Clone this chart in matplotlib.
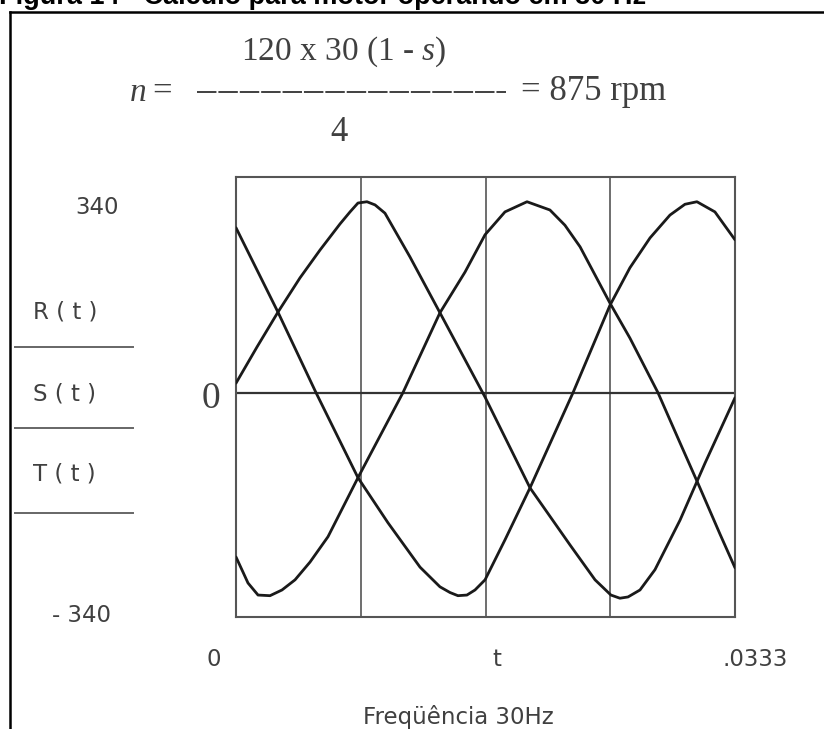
import matplotlib
matplotlib.use("Agg")
import matplotlib.pyplot as plt

W, H = 824, 729

# values (time in s, voltage in V)
t_R = [0, 0.00140, 0.00280, 0.00427, 0.00561, 0.00694, 0.00761, 0.00814, 0.00874,
       0.00928, 0.00994, 0.01161, 0.01361, 0.01662, 0.01962, 0.02229, 0.02396,
       0.02502, 0.02562, 0.02616, 0.02696, 0.02796, 0.02963, 0.03130, 0.0333]
v_R = [15, 72, 127, 181, 225, 266, 285, 299, 301,
       296, 283, 214, 126, -7, -150, -240, -295,
       -319, -324, -322, -311, -279, -201, -111, -8]

t_S = [0, 0.00047, 0.00080, 0.00147, 0.00227, 0.00307, 0.00394, 0.00494, 0.00614,
       0.00814, 0.01114, 0.01361, 0.01528, 0.01662, 0.01795, 0.01942, 0.02095,
       0.02195, 0.02296, 0.02496, 0.02629, 0.02816, 0.02963, 0.03096, 0.03230, 0.0333]
v_S = [-259, -283, -300, -319, -320, -311, -295, -267, -227,
       -134, 0, 126, 190, 249, 285, 301, 288,
       264, 230, 141, 86, 0, -79, -150, -223, -276]

t_T = [0, 0.00280, 0.00534, 0.00814, 0.01014, 0.01228, 0.01361, 0.01428, 0.01481,
       0.01541, 0.01595, 0.01662, 0.01795, 0.01962, 0.02249, 0.02496, 0.02629,
       0.02763, 0.02896, 0.02996, 0.03076, 0.03196, 0.0333]
v_T = [260, 127, 0, -134, -205, -275, -306, -315, -320,
       -319, -311, -295, -232, -150, 0, 138, 197,
       244, 280, 297, 301, 285, 241]

t_max = 0.0333
y_lo, y_hi = -353.6, 340
grid_t = [t_max / 4, t_max / 2, 3 * t_max / 4]

txt_col = "#404040"
serif = "Liberation Serif"
plt.rcParams["mathtext.fontset"] = "custom"
plt.rcParams["mathtext.rm"] = "Liberation Serif"
plt.rcParams["mathtext.it"] = "Liberation Serif:italic"


def fx(x):
    return x / W


def fy(y):
    return 1 - y / H


fig = plt.figure(figsize=(W / 100, H / 100), dpi=100)

# title (cut off at the top of the scan, as in the source)
fig.text(fx(-1), fy(4), "Figura 14 - Cálculo para motor operando em 30 Hz",
         family="Liberation Sans", weight="bold", fontsize=19.5, va="baseline", ha="left")

# frame of the figure box
fig.add_artist(plt.Line2D([fx(9.5), fx(W)], [fy(12), fy(12)], color="black", lw=1.8))
fig.add_artist(plt.Line2D([fx(9.5), fx(9.5)], [fy(12), fy(H)], color="black", lw=1.8))

# formula
fig.text(fx(344), fy(60), r"120 x 30 (1 - $\mathit{s}$)", family=serif, fontsize=24,
         ha="center", va="baseline", color=txt_col)
fig.text(fx(130), fy(101), "n", family=serif, style="italic", fontsize=24,
         ha="left", va="baseline", color=txt_col)
fig.text(fx(162), fy(101), "=", family=serif, fontsize=25,
         ha="center", va="baseline", color=txt_col)
fig.add_artist(plt.Line2D([fx(197), fx(506)], [fy(92), fy(92)], color=txt_col,
                          lw=1.4, dashes=(10, 1.0)))
fig.text(fx(521), fy(100), "= 875 rpm", family=serif, fontsize=25,
         ha="left", va="baseline", color=txt_col)
fig.text(fx(339), fy(141), "4", family=serif, fontsize=25,
         ha="center", va="baseline", color=txt_col)

# plot area
ax = fig.add_axes([fx(236), fy(617), (735 - 236) / W, (617 - 177) / H])
for arr_t, arr_v in [(t_R, v_R), (t_S, v_S), (t_T, v_T)]:
    ax.plot(arr_t, arr_v, color="#1a1a1a", lw=2.0, solid_capstyle="round",
            solid_joinstyle="round", zorder=3)
for g in grid_t:
    ax.axvline(g, color="#555555", lw=1.2, zorder=1)
ax.axhline(0, color="#333333", lw=1.6, zorder=2)
ax.set_xlim(0, t_max)
ax.set_ylim(y_lo, y_hi)
ax.set_xticks([])
ax.set_yticks([])
for sp in ax.spines.values():
    sp.set_color("#555555")
    sp.set_linewidth(1.5)

# axis labels in Mathcad style
sans = dict(family="DejaVu Sans", fontsize=16.5, color=txt_col)
fig.text(fx(75), fy(207), "340", ha="left", va="center", **sans)
fig.text(fx(52), fy(615), "- 340", ha="left", va="center", **sans)
fig.text(fx(211), fy(399), "0", family=serif, fontsize=27, ha="center", va="center",
         color=txt_col)
for lab, yc, yl in [("R ( t )", 312, 347), ("S ( t )", 394, 428), ("T ( t )", 474, 513)]:
    fig.text(fx(33), fy(yc), lab, ha="left", va="center", **sans)
    fig.add_artist(plt.Line2D([fx(15), fx(133)], [fy(yl), fy(yl)], color="#666666", lw=1.4))

fig.text(fx(214), fy(659), "0", ha="center", va="center", **sans)
fig.text(fx(497), fy(659), "t", ha="center", va="center", **sans)
fig.text(fx(755), fy(659), ".0333", ha="center", va="center", **sans)
fig.text(fx(458), fy(717), "Freqüência 30Hz", ha="center", va="center", **sans)

fig.savefig("out.png", dpi=100)
